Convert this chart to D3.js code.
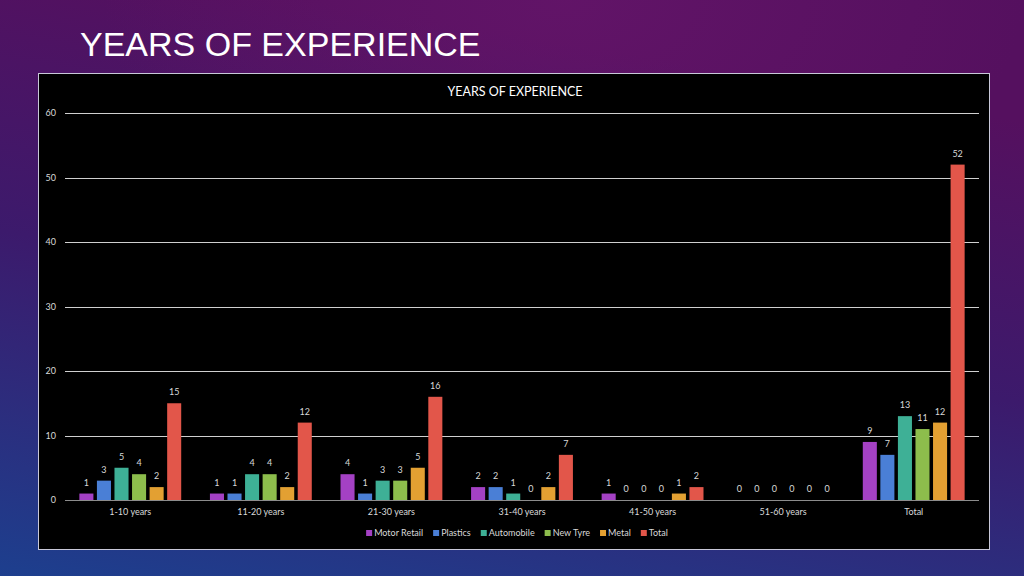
<!DOCTYPE html>
<html><head><meta charset="utf-8">
<script src="https://cdn.jsdelivr.net/npm/d3@7"></script>
<style>html,body{margin:0;padding:0;background:#000;}svg{display:block;}</style>
</head><body>
<svg id="c" width="1024" height="576"></svg>
<script>
const categories = ["1-10 years","11-20 years","21-30 years","31-40 years","41-50 years","51-60 years","Total"];
const seriesNames = ["Motor Retail","Plastics","Automobile","New Tyre","Metal","Total"];
const motorRetail = [1,1,4,2,1,0,9];
const plastics = [3,1,1,2,0,0,7];
const automobile = [5,4,3,1,0,0,13];
const newTyre = [4,4,3,0,0,0,11];
const metal = [2,2,5,2,1,0,12];
const total = [15,12,16,7,2,0,52];
const yTicks = [0,10,20,30,40,50,60];
const colors = ["#a441c4","#4a7fd6","#3eb096","#8dbd4c","#e3a032","#e2564a"];
const seriesValues = [motorRetail,plastics,automobile,newTyre,metal,total];

const svg = d3.select("#c");
const defs = svg.append("defs");
const g1 = defs.append("linearGradient").attr("id","bg").attr("x1","0.3").attr("y1","0").attr("x2","0").attr("y2","1");
g1.append("stop").attr("offset","0").attr("stop-color","#55105f");
g1.append("stop").attr("offset","0.45").attr("stop-color","#3c1a6c");
g1.append("stop").attr("offset","1").attr("stop-color","#1d3f8e");
svg.append("rect").attr("width",1024).attr("height",576).attr("fill","url(#bg)");
const g2 = defs.append("radialGradient").attr("id","glow").attr("cx","0.55").attr("cy","0.0").attr("r","0.45");
g2.append("stop").attr("offset","0").attr("stop-color","#6e1870").attr("stop-opacity",0.5);
g2.append("stop").attr("offset","1").attr("stop-color","#6e1870").attr("stop-opacity",0);
svg.append("rect").attr("width",1024).attr("height",576).attr("fill","url(#glow)");

svg.append("text").attr("x",80).attr("y",56).attr("fill","#ffffff")
  .attr("font-family","Liberation Sans, Arial, sans-serif").attr("font-size",34)
  .text("YEARS OF EXPERIENCE");

// chart box
svg.append("rect").attr("x",38.5).attr("y",73.5).attr("width",951).attr("height",476)
  .attr("fill","#000").attr("stroke","#c8c8d8").attr("stroke-width",1);

svg.append("text").attr("x",515).attr("y",96).attr("text-anchor","middle").attr("fill","#ffffff")
  .attr("font-family","Lato, Open Sans, sans-serif").attr("font-size",12.5).text("YEARS OF EXPERIENCE");

const x0 = d3.scaleBand().domain(categories).range([65,979]).paddingInner(0.22).paddingOuter(0.11);
const x1 = d3.scaleBand().domain(seriesNames).range([0,x0.bandwidth()]).paddingInner(0.2);
const y = d3.scaleLinear().domain([0,60]).range([500,113]);

const font = "Lato, Open Sans, sans-serif";
// grid
svg.append("g").selectAll("line").data(yTicks).join("line")
  .attr("x1",65).attr("x2",979).attr("y1",d=>Math.round(y(d))+0.5).attr("y2",d=>Math.round(y(d))+0.5)
  .attr("stroke",d=>d===0?"#8c8c8c":"#d0d0d0").attr("stroke-width",1);
svg.append("g").selectAll("text").data(yTicks).join("text")
  .attr("x",56).attr("y",d=>y(d)+3).attr("text-anchor","end").attr("fill","#d9d9d9")
  .attr("font-family",font).attr("font-size",9).text(d=>d);

// bars
const groups = svg.append("g").selectAll("g").data(categories).join("g")
  .attr("transform",d=>`translate(${x0(d)},0)`);
groups.each(function(cat,ci){
  const gg = d3.select(this);
  seriesNames.forEach((s,si)=>{
    const v = seriesValues[si][ci];
    gg.append("rect").attr("x",x1(s)).attr("y",y(v)).attr("width",x1.bandwidth())
      .attr("height",y(0)-y(v)).attr("fill",colors[si]);
    gg.append("text").attr("x",x1(s)+x1.bandwidth()/2).attr("y",y(v)-8)
      .attr("text-anchor","middle").attr("fill","#d9d9d9").attr("font-family",font)
      .attr("font-size",9).text(v);
  });
});
// category labels
svg.append("g").selectAll("text").data(categories).join("text")
  .attr("x",d=>x0(d)+x0.bandwidth()/2).attr("y",515).attr("text-anchor","middle")
  .attr("fill","#d9d9d9").attr("font-family",font).attr("font-size",9).text(d=>d);

// legend
const leg = svg.append("g");
const items = [];
let lx = 0;
seriesNames.forEach((s,i)=>{
  const r = leg.append("rect").attr("x",lx).attr("y",530).attr("width",6).attr("height",6).attr("fill",colors[i]);
  const t = leg.append("text").attr("x",lx+8).attr("y",536).attr("fill","#d9d9d9")
    .attr("font-family",font).attr("font-size",9).text(s);
  lx += t.node().getComputedTextLength()+8+10;
});
const lw = lx - 10;
leg.attr("transform",`translate(${517 - lw/2},0)`);
</script>
</body></html>
